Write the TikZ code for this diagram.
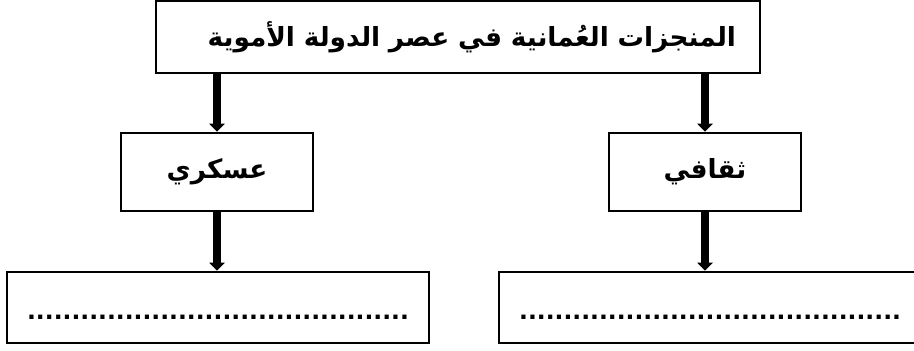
\documentclass[tikz,border=0pt]{standalone}
\usepackage{fontspec}
\TeXXeTstate=1
\newfontfamily\arabicfont[Script=Arabic]{DejaVu Sans}
\usetikzlibrary{arrows.meta, positioning}

\tikzset{
  box/.style={draw, line width=1.4pt, inner sep=0pt, font=\arabicfont\bfseries\fontsize{15}{18}\selectfont},
  arr/.style={line width=4pt, -{Triangle[length=4.6pt, width=8.6pt]}},
  dots/.style={font=\arabicfont\bfseries\fontsize{13.3}{15}\selectfont, text height=0.5cm, text depth=0pt}
}

\begin{document}
\begin{tikzpicture}
            \useasboundingbox (0,0) rectangle (18.28,7.02);
            % Title
            \node[box, minimum width=12.08cm, minimum height=1.44cm, inner xsep=0.48cm, text width=11.12cm, align=right] (title) at (9.16,6.28) {\beginR المنجزات العُمانية في عصر الدولة الأموية\endR};
            % Two branches
            \node[box, minimum width=3.84cm, minimum height=1.56cm] (military) at (4.34,3.58) {\beginR عسكري\endR};
            \node[box, minimum width=3.84cm, minimum height=1.56cm] (cultural) at (14.10,3.58) {\beginR ثقافي\endR};
            % Answer boxes
            \node[box, dots, minimum width=8.44cm, minimum height=1.42cm] (answerA) at (4.36,0.87) {...........................................};
            \node[box, dots, minimum width=8.44cm, minimum height=1.42cm] (answerB) at (14.20,0.87) {...........................................};
            % Arrows
            \draw[arr] (title.south -| military.north) -- (military.north);
            \draw[arr] (title.south -| cultural.north) -- (cultural.north);
            \draw[arr] (military.south) -- (military.south |- answerA.north);
            \draw[arr] (cultural.south) -- (cultural.south |- answerB.north);
        \end{tikzpicture}
\end{document}
